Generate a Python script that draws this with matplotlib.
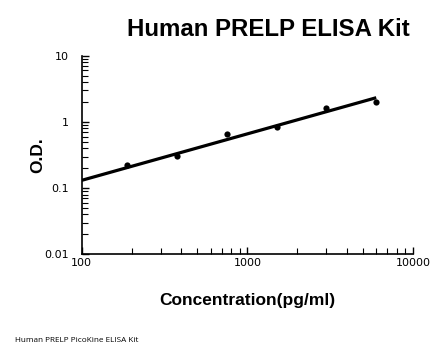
import numpy as np
import matplotlib
matplotlib.use("Agg")
import matplotlib.pyplot as plt
from matplotlib.ticker import LogLocator, FixedLocator, FixedFormatter, NullFormatter

concentration = [187.5, 375, 750, 1500, 3000, 6000]
od = [0.221, 0.305, 0.656, 0.846, 1.64, 2.02]
# fitted standard curve
fit_conc = [100, 6000]
fit_od = [0.131, 2.32]
title = "Human PRELP ELISA Kit"
xlabel = "Concentration(pg/ml)"
ylabel = "O.D."
footnote = "Human PRELP PicoKine ELISA Kit"
xticks = [100, 1000, 10000]
xticklabels = ["100", "1000", "10000"]
yticks = [0.01, 0.1, 1, 10]
yticklabels = ["0.01", "0.1", "1", "10"]

W, H = 446, 356
fig = plt.figure(figsize=(W / 100, H / 100), dpi=100)
ax = fig.add_axes([81.7 / W, 1 - 254.3 / H, (413 - 81.7) / W, (254.3 - 55.7) / H])

ax.plot(fit_conc, fit_od, color="black", lw=2.3, solid_capstyle="butt", zorder=2)
ax.scatter(concentration, od, s=20, color="black", zorder=3, linewidths=0)

ax.set_xscale("log")
ax.set_yscale("log")
ax.set_xlim(100, 10000)
ax.set_ylim(0.01, 10)

for s in ["top", "right"]:
    ax.spines[s].set_visible(False)
for s in ["left", "bottom"]:
    ax.spines[s].set_linewidth(1.2)

ax.xaxis.set_major_locator(FixedLocator(xticks))
ax.xaxis.set_major_formatter(FixedFormatter(xticklabels))
ax.yaxis.set_major_locator(FixedLocator(yticks))
ax.yaxis.set_major_formatter(FixedFormatter(yticklabels))
ax.xaxis.set_minor_locator(LogLocator(base=10, subs=np.arange(2, 10)))
ax.yaxis.set_minor_locator(LogLocator(base=10, subs=np.arange(2, 10)))
ax.xaxis.set_minor_formatter(NullFormatter())
ax.yaxis.set_minor_formatter(NullFormatter())

ax.tick_params(axis="both", which="major", direction="in", length=5, width=1, labelsize=8)
ax.tick_params(axis="both", which="minor", direction="in", length=4.5, width=0.8)
ax.tick_params(axis="x", which="major", pad=3)
ax.tick_params(axis="y", which="major", pad=9)

fig.text(268 / W, 1 - 30 / H, title, ha="center", va="center", fontsize=17.3, fontweight="bold", family="Liberation Sans")
fig.text(247 / W, 1 - 300 / H, xlabel, ha="center", va="center", fontsize=12.5, fontweight="bold", family="Liberation Sans")
fig.text(38 / W, 1 - 155 / H, ylabel, ha="center", va="center", rotation=90, fontsize=12.5, fontweight="bold", family="Liberation Sans")
fig.text(15 / W, 1 - 340 / H, footnote, ha="left", va="center", fontsize=5.9, family="Open Sans")

fig.savefig("out.png", dpi=100)
